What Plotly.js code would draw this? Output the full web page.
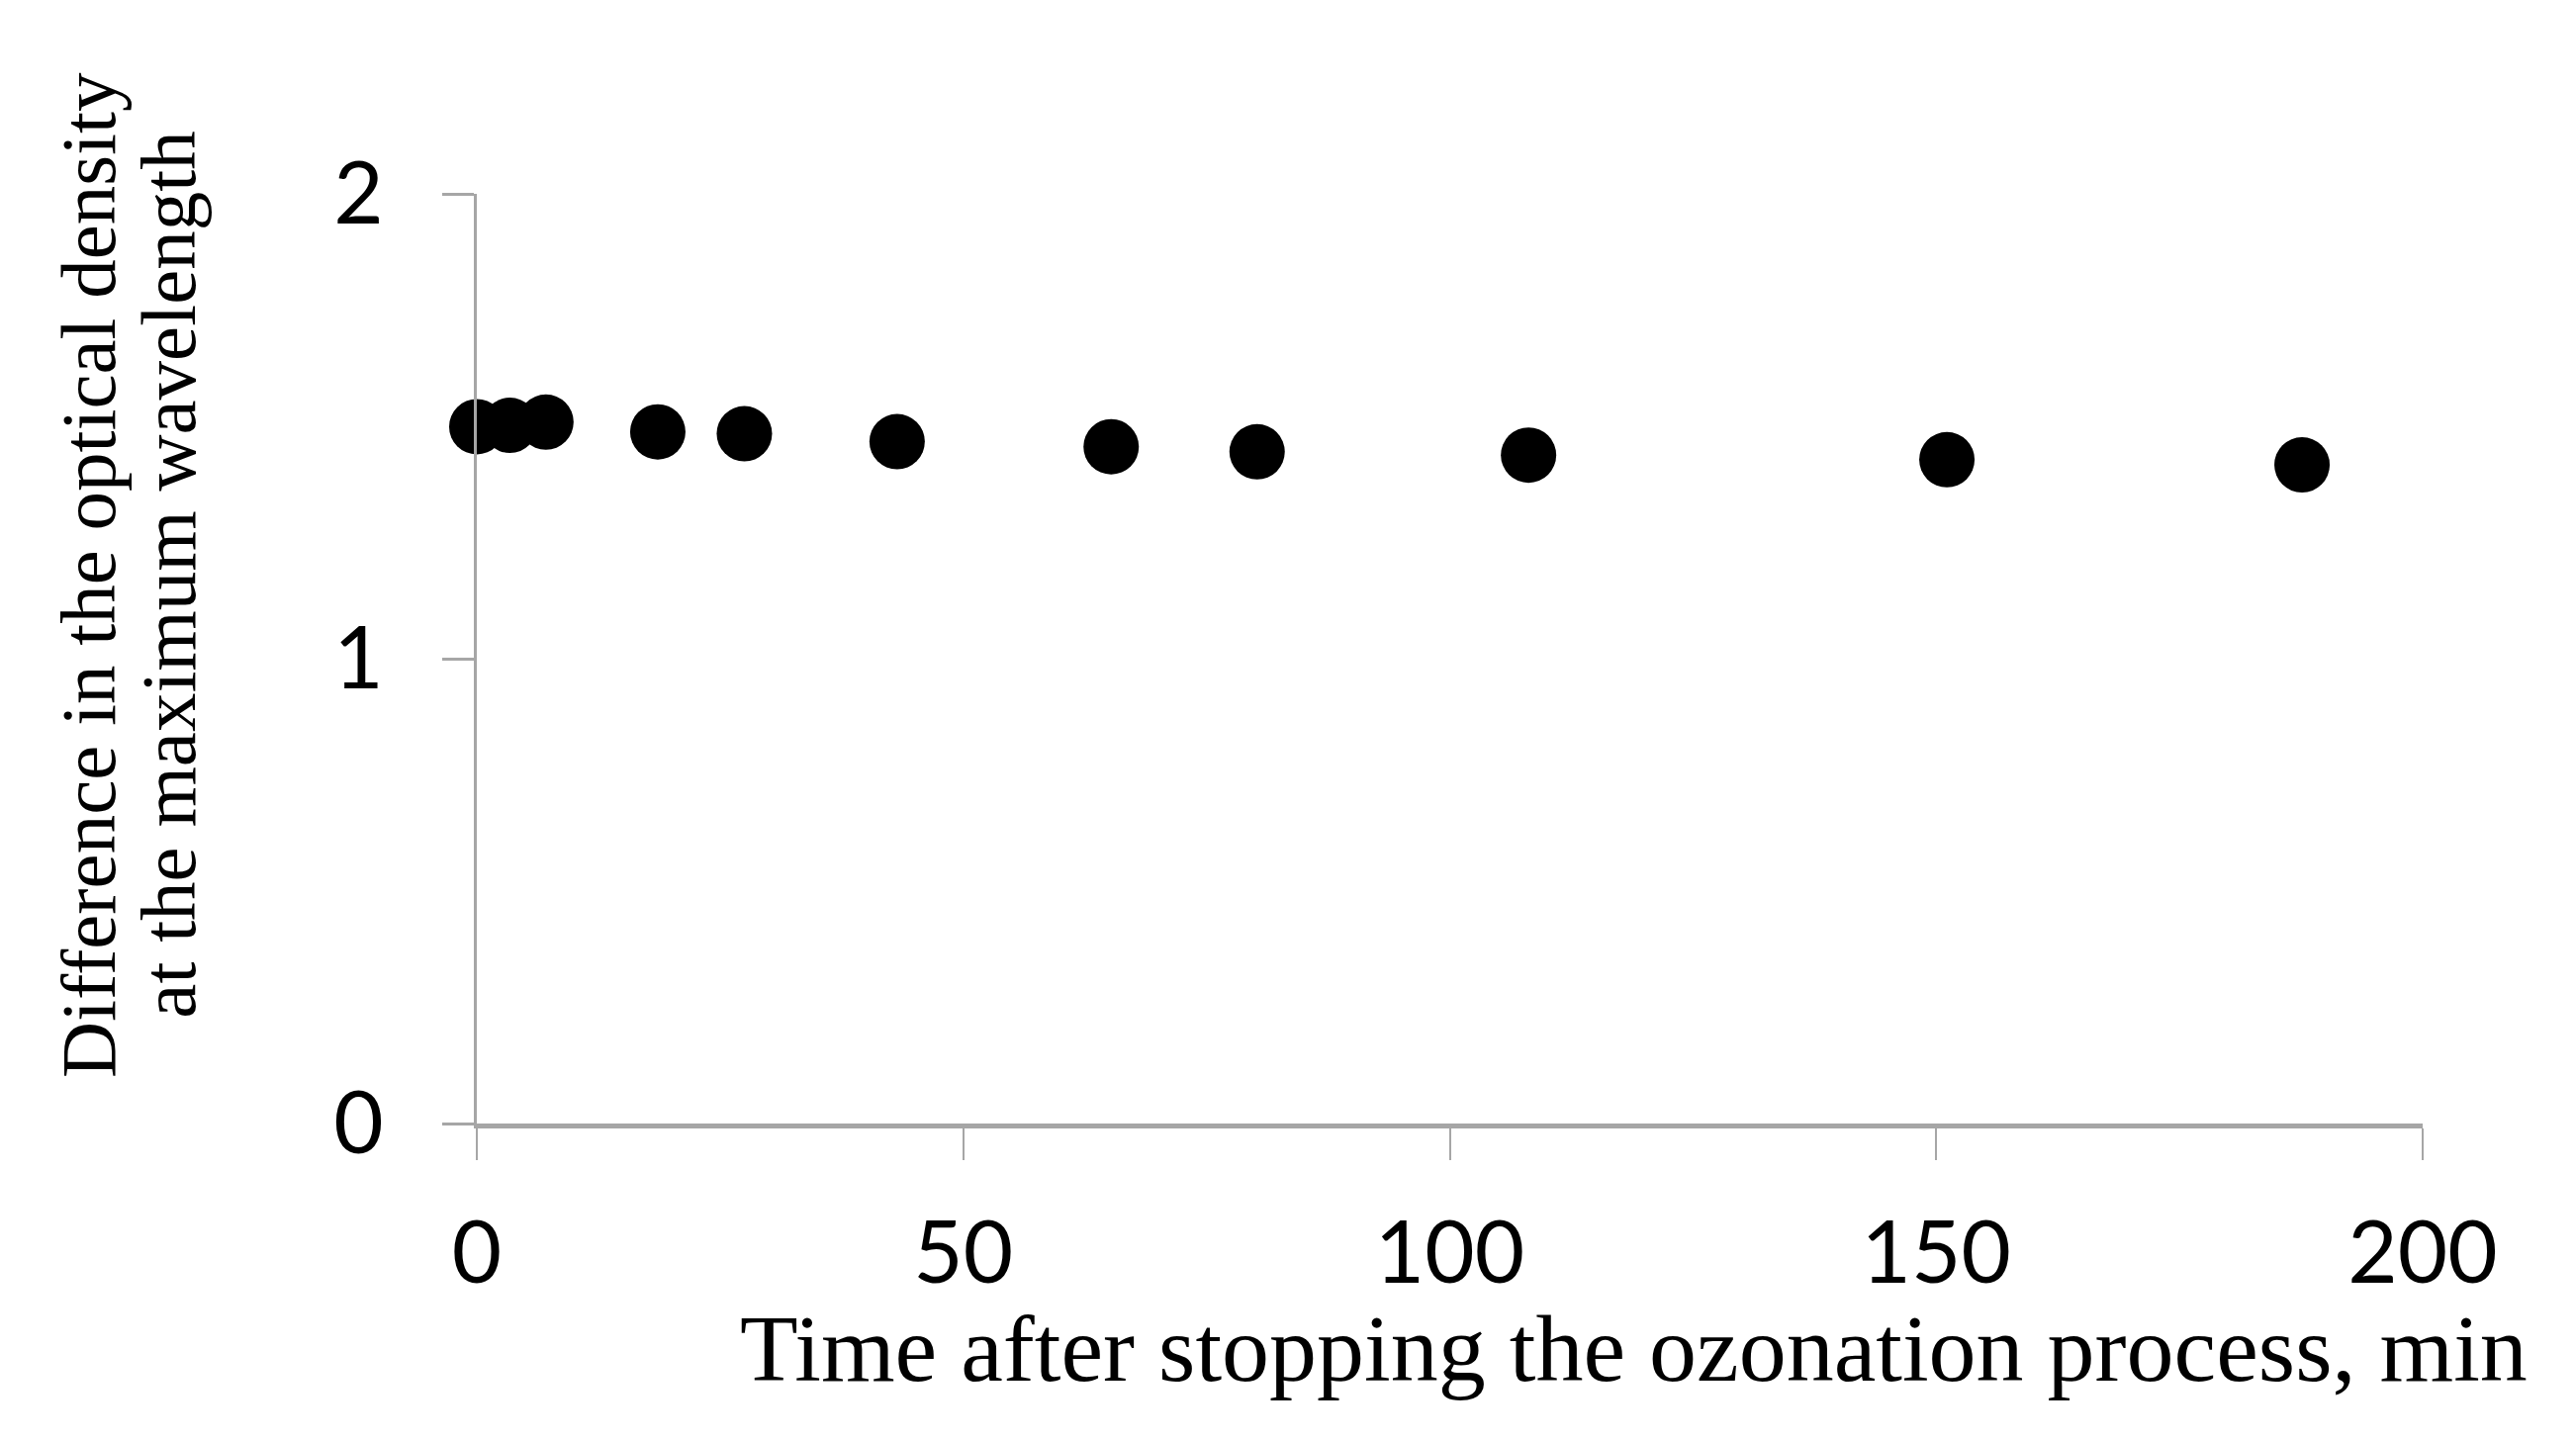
<!DOCTYPE html>
<html>
<head>
<meta charset="utf-8">
<script src="https://cdn.plot.ly/plotly-3.0.1.min.js"></script>
<style>html,body{margin:0;padding:0;background:#fff;}#chart{width:2604px;height:1456px;}</style>
</head>
<body>
<div id="chart"></div>
<script>
// Time after stopping the ozonation process, min
const timeMin = [0, 3.4, 7.1, 18.6, 27.5, 43.2, 65.2, 80.2, 108.1, 151.1, 187.6];
// Difference in the optical density at the maximum wavelength
const odDiff = [1.499, 1.502, 1.509, 1.488, 1.484, 1.467, 1.456, 1.445, 1.438, 1.428, 1.417];
const xTickVals = [0, 50, 100, 150, 200];
const yTickVals = [0, 1, 2];
const xTitle = "Time after stopping the ozonation process, min";
const yTitleLine1 = "Difference in the optical density";
const yTitleLine2 = "at the maximum wavelength";

const trace = {
  x: timeMin, y: odDiff, type: 'scatter', mode: 'markers',
  marker: {color: '#000000', size: 56, line: {width: 0}},
  cliponaxis: false, hoverinfo: 'x+y'
};

const layout = {
  width: 2604, height: 1456,
  margin: {l: 482, r: 155, t: 196, b: 320, pad: 0},
  paper_bgcolor: '#ffffff', plot_bgcolor: '#ffffff',
  showlegend: false,
  xaxis: {
    range: [0, 200], tickvals: xTickVals, ticktext: xTickVals.map(String),
    showgrid: false, zeroline: false, showline: true, linecolor: '#a6a6a6', linewidth: 5,
    ticks: 'outside', ticklen: 32, tickwidth: 2, tickcolor: '#a6a6a6',
    tickfont: {family: 'Lato, Calibri, sans-serif', size: 87, color: '#000000'},
    ticklabelstandoff: 20, fixedrange: true
  },
  yaxis: {
    range: [0, 2], tickvals: yTickVals, ticktext: yTickVals.map(String),
    showgrid: false, zeroline: false, showline: true, linecolor: '#a6a6a6', linewidth: 3,
    ticks: 'outside', ticklen: 32, tickwidth: 3, tickcolor: '#a6a6a6',
    tickfont: {family: 'Lato, Calibri, sans-serif', size: 87, color: '#000000'},
    ticklabelstandoff: 42, fixedrange: true
  },
  annotations: [
    {text: xTitle, xref: 'paper', yref: 'paper', x: 1.0549, y: -0.2425,
     xanchor: 'right', yanchor: 'middle', showarrow: false,
     font: {family: '"Liberation Serif", "Times New Roman", serif', size: 96, color: '#000000'}},
    {text: yTitleLine1, xref: 'paper', yref: 'paper', x: -0.1995, y: 0.590,
     xanchor: 'center', yanchor: 'middle', textangle: -90, showarrow: false,
     font: {family: '"Liberation Serif", "Times New Roman", serif', size: 79, color: '#000000'}},
    {text: yTitleLine2, xref: 'paper', yref: 'paper', x: -0.1585, y: 0.590,
     xanchor: 'center', yanchor: 'middle', textangle: -90, showarrow: false,
     font: {family: '"Liberation Serif", "Times New Roman", serif', size: 79, color: '#000000'}}
  ]
};

Plotly.newPlot('chart', [trace], layout, {displayModeBar: false, staticPlot: true});
</script>
</body>
</html>
